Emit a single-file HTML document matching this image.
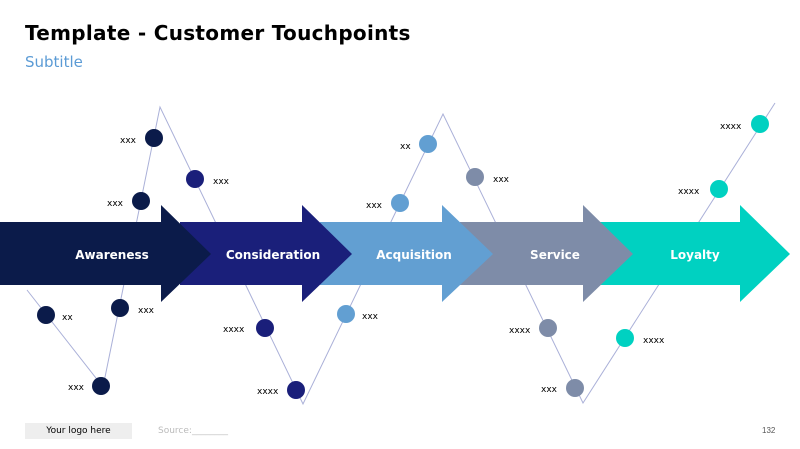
<!DOCTYPE html>
<html><head><style>
body{margin:0;width:800px;height:449px;background:#fff;font-family:"Liberation Sans",sans-serif;position:relative;overflow:hidden}
.t{position:absolute;left:25px;top:21px;font-family:"DejaVu Sans",sans-serif;font-size:20px;font-weight:bold;color:#000;letter-spacing:0.3px}
.s{position:absolute;left:25px;top:53px;font-family:"DejaVu Sans",sans-serif;font-size:15px;color:#5b9bd5}
.logo{position:absolute;left:25px;top:423px;width:107px;height:16px;background:#eee;font-family:"DejaVu Sans",sans-serif;font-size:9px;text-align:center;line-height:16px;color:#000}
.src{position:absolute;left:158px;top:426px;font-family:"DejaVu Sans",sans-serif;font-size:9px;color:#bbb}
.pg{position:absolute;left:762px;top:426px;font-size:8px;color:#555}
</style></head><body>
<div class="t">Template - Customer Touchpoints</div>
<div class="s">Subtitle</div>
<svg width="800" height="449" style="position:absolute;left:0;top:0">
<polyline points="27,290 103,387 160,107 303,404 443,114 583,403 775,103" fill="none" stroke="#aab0d8" stroke-width="1"/>
<polygon points="600,222 740,222 740,205 790,254 740,302 740,285 600,285" fill="#00d1c1"/>
<polygon points="460,222 583,222 583,205 633,254 583,302 583,285 460,285" fill="#7e8ca8"/>
<polygon points="320,222 442,222 442,205 493,254 442,302 442,285 320,285" fill="#629fd2"/>
<polygon points="180,222 302,222 302,205 352,254 302,302 302,285 180,285" fill="#1a1f7a"/>
<polygon points="0,222 161,222 161,205 211,254 161,302 161,285 0,285" fill="#0b1b4a"/>
<g font-family="DejaVu Sans,sans-serif" font-size="12" font-weight="bold" fill="#fff" text-anchor="middle">
<text x="112" y="259">Awareness</text><text x="273" y="259">Consideration</text><text x="414" y="259">Acquisition</text><text x="555" y="259">Service</text><text x="695" y="259">Loyalty</text></g>
<g fill="#0b1b4a"><circle cx="154" cy="138" r="9"/><circle cx="141" cy="201" r="9"/><circle cx="120" cy="308" r="9"/><circle cx="46" cy="315" r="9"/><circle cx="101" cy="386" r="9"/></g>
<g fill="#1a1f7a"><circle cx="195" cy="179" r="9"/><circle cx="265" cy="328" r="9"/><circle cx="296" cy="390" r="9"/></g>
<g fill="#629fd2"><circle cx="428" cy="144" r="9"/><circle cx="400" cy="203" r="9"/><circle cx="346" cy="314" r="9"/></g>
<g fill="#7e8ca8"><circle cx="475" cy="177" r="9"/><circle cx="548" cy="328" r="9"/><circle cx="575" cy="388" r="9"/></g>
<g fill="#00d1c1"><circle cx="625" cy="338" r="9"/><circle cx="719" cy="189" r="9"/><circle cx="760" cy="124" r="9"/></g>
<g font-family="DejaVu Sans,sans-serif" font-size="9" fill="#000">
<text x="120" y="143">xxx</text><text x="213" y="184">xxx</text><text x="107" y="206">xxx</text><text x="138" y="313">xxx</text><text x="62" y="320">xx</text><text x="68" y="390">xxx</text>
<text x="223" y="332">xxxx</text><text x="257" y="394">xxxx</text><text x="400" y="149">xx</text><text x="366" y="208">xxx</text><text x="362" y="319">xxx</text>
<text x="493" y="182">xxx</text><text x="509" y="333">xxxx</text><text x="541" y="392">xxx</text><text x="643" y="343">xxxx</text><text x="678" y="194">xxxx</text><text x="720" y="129">xxxx</text></g>
</svg>
<div class="logo">Your logo here</div>
<div class="src">Source:________</div>
<div class="pg">132</div>
</body></html>
